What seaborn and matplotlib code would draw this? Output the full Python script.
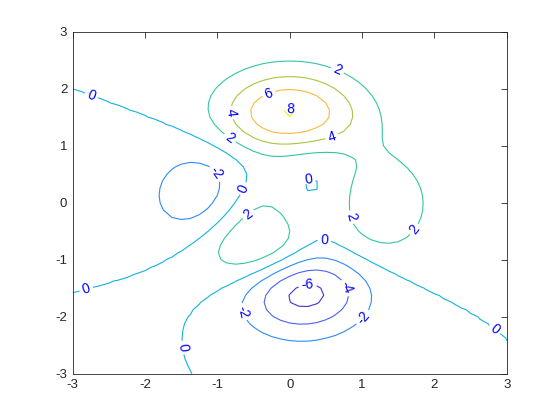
import numpy as np
import seaborn as sns
import matplotlib.pyplot as plt

# peaks surface, 49x49 grid as in MATLAB peaks
n = 49
xs = np.linspace(-3, 3, n)
ys = np.linspace(-3, 3, n)
X, Y = np.meshgrid(xs, ys)
Z = (3 * (1 - X) ** 2 * np.exp(-X ** 2 - (Y + 1) ** 2)
     - 10 * (X / 5 - X ** 3 - Y ** 5) * np.exp(-X ** 2 - Y ** 2)
     - 1 / 3 * np.exp(-(X + 1) ** 2 - Y ** 2))

levels = [-6, -4, -2, 0, 2, 4, 6, 8]
ticks = [-3, -2, -1, 0, 1, 2, 3]

# where the labels sit in the reference (data coords)
label_pos = [(-2.74, 1.89), (0.66, 2.33), (-0.30, 1.94), (0.0, 1.63),
             (-0.83, 1.57), (0.57, 1.19), (-0.83, 1.13), (-1.04, 0.48),
             (-0.68, 0.27), (0.26, 0.40), (-0.59, -0.18), (0.86, -0.25),
             (1.70, -0.45), (0.48, -0.66), (0.25, -1.47), (0.77, -1.50),
             (-0.64, -1.91), (1.01, -2.01), (-2.82, -1.50), (-1.47, -2.54),
             (2.85, -2.19)]

sns.set_theme(style="white")
plt.rcParams['font.family'] = ['Liberation Sans', 'DejaVu Sans']

# parula colours picked at each level
level_colors = sns.color_palette(
    [(0.27, 0.20, 0.76), (0.30, 0.38, 0.97), (0.18, 0.55, 0.95),
     (0.07, 0.70, 0.87), (0.20, 0.78, 0.62), (0.65, 0.78, 0.25),
     (0.98, 0.73, 0.22), (0.98, 0.95, 0.10)])

fig = plt.figure(figsize=(5.6, 4.2), dpi=100)
ax = fig.add_axes([0.13, 0.11, 0.775, 0.815])

cs = ax.contour(X, Y, Z, levels=levels, colors=level_colors, linewidths=0.8)
ax.clabel(cs, fmt=lambda v: '%d' % v, colors='blue', fontsize=10,
          inline=True, inline_spacing=3, manual=label_pos)

ax.set_xlim(-3, 3)
ax.set_ylim(-3, 3)
ax.set_xticks(ticks)
ax.set_yticks(ticks)
ax.set_xticklabels([str(t) for t in ticks])
ax.set_yticklabels([str(t) for t in ticks])
ax.tick_params(direction='in', length=4, width=0.6, top=True, right=True,
               labelsize=9.5, colors='#262626', pad=4)
for s in ax.spines.values():
    s.set_color('#262626')
    s.set_linewidth(0.6)

fig.savefig('out.png', dpi=100)
